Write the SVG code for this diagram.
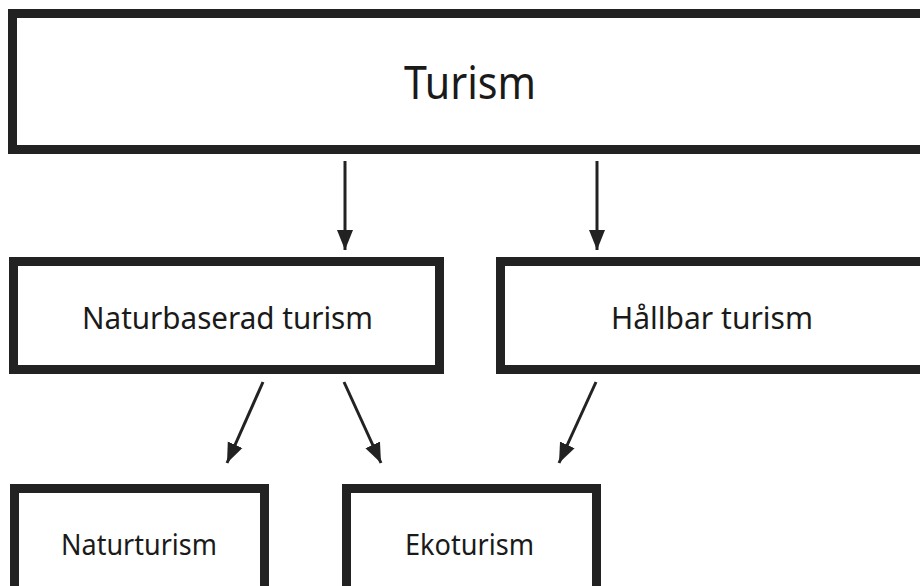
<svg xmlns="http://www.w3.org/2000/svg" width="920" height="586" viewBox="0 0 920 586">
<defs>
<style>
.box{fill:#fff;stroke:#222;stroke-width:9}
.lbl{font-family:"Noto Sans","Liberation Sans",sans-serif;fill:#1a1a1a;text-anchor:middle}
.con{stroke:#222;stroke-width:3;fill:none;marker-end:url(#ah)}
</style>
<marker id="ah" markerUnits="userSpaceOnUse" markerWidth="20" markerHeight="20" viewBox="0 0 20 16" refX="20" refY="8" orient="auto">
<path d="M0,0 L20,8 L0,16 Z" fill="#222"/>
</marker>
</defs>
<rect width="920" height="586" fill="#fff"/>
<g id="turism">
<rect class="box" x="12.5" y="13.5" width="930" height="136"/>
<text class="lbl" x="470" y="99" font-size="46" textLength="132" lengthAdjust="spacingAndGlyphs">Turism</text>
</g>
<g id="naturbaserad">
<rect class="box" x="13.5" y="261.5" width="426" height="108"/>
<text class="lbl" x="227.5" y="329" font-size="31" textLength="291" lengthAdjust="spacingAndGlyphs">Naturbaserad turism</text>
</g>
<g id="hallbar">
<rect class="box" x="500.5" y="261.5" width="440" height="108"/>
<text class="lbl" x="712" y="329" font-size="31" textLength="202" lengthAdjust="spacingAndGlyphs">Hållbar turism</text>
</g>
<g id="naturturism">
<rect class="box" x="14.5" y="488.5" width="250" height="120"/>
<text class="lbl" x="139" y="555" font-size="29" textLength="156" lengthAdjust="spacingAndGlyphs">Naturturism</text>
</g>
<g id="ekoturism">
<rect class="box" x="346.5" y="488.5" width="250" height="120"/>
<text class="lbl" x="469.5" y="555" font-size="29" textLength="129" lengthAdjust="spacingAndGlyphs">Ekoturism</text>
</g>
<g id="connectors">
<line class="con" x1="345" y1="161" x2="345" y2="250"/>
<line class="con" x1="597" y1="161" x2="597" y2="250"/>
<line class="con" x1="263" y1="382" x2="227" y2="463"/>
<line class="con" x1="344" y1="382" x2="381" y2="463"/>
<line class="con" x1="596" y1="382" x2="559" y2="463"/>
</g>
</svg>
